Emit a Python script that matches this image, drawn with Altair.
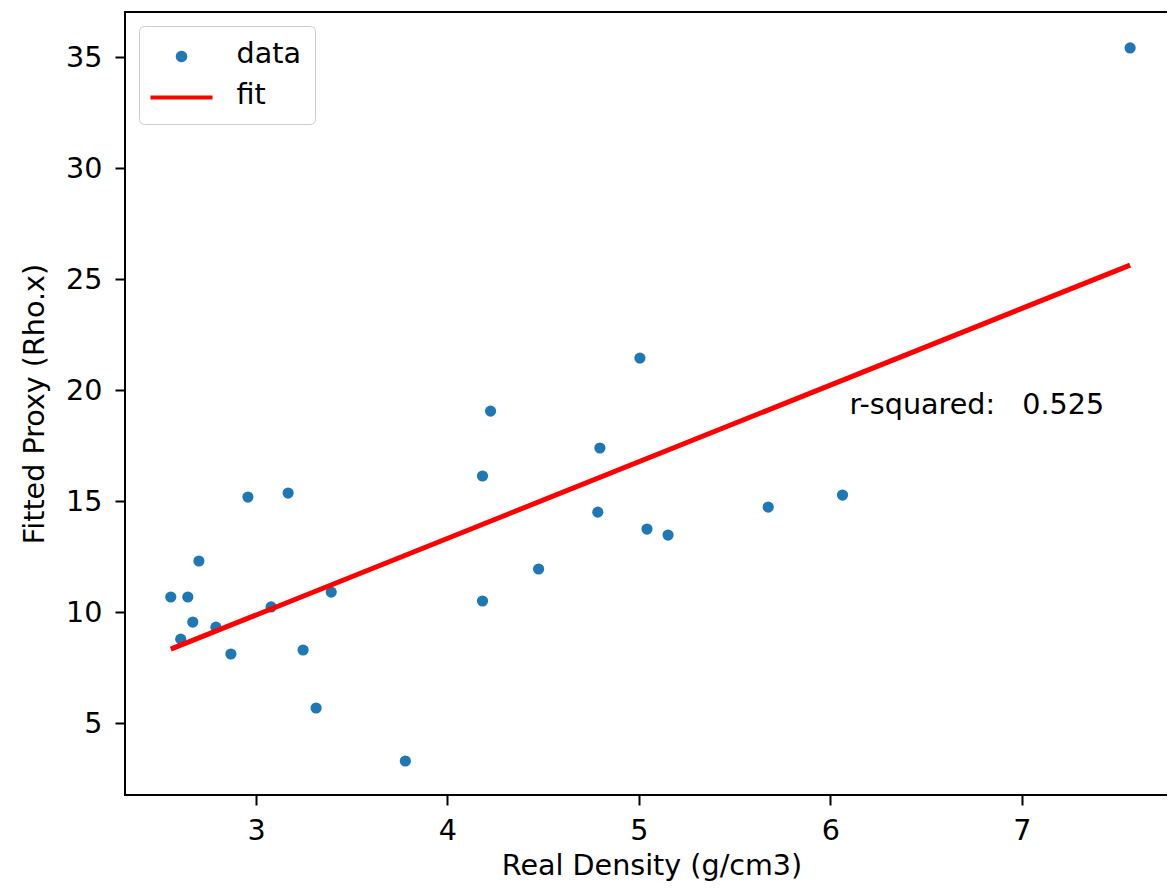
import math
import altair as alt
import pandas as pd

# ---- data ----
density = [2.555, 2.607, 2.644, 2.670, 2.702, 2.791, 2.869, 2.958, 3.079, 3.168,
           3.246, 3.314, 3.393, 3.780, 4.183, 4.183, 4.225, 4.476, 4.785, 4.796,
           5.005, 5.042, 5.152, 5.675, 6.063, 7.565]
proxy = [10.68, 8.78, 10.68, 9.55, 12.30, 9.32, 8.11, 15.18, 10.23, 15.36,
         8.29, 5.68, 10.90, 3.29, 16.13, 10.50, 19.05, 11.94, 14.50, 17.39,
         21.44, 13.74, 13.47, 14.73, 15.27, 35.41]
fit_x = [2.555, 7.565]
fit_y = [8.33, 25.63]
series_names = ["data", "fit"]
rsq_label = ["r-squared:\u00a0\u00a0\u00a00.525"]
rsq_x = [6.10]
rsq_y = [18.9]

x_domain = [2.316, 7.815]
y_domain = [1.76, 37.03]

W, H = 1053, 783
FONT = "DejaVu Sans"
FS = 28.6

pts = pd.DataFrame({"x": density, "y": proxy})
fit = pd.DataFrame({"x": fit_x, "y": fit_y})
leg = pd.DataFrame({"x": fit_x, "y": fit_y, "series": series_names})
txt = pd.DataFrame({"x": rsq_x, "y": rsq_y, "label": rsq_label})

xs = alt.Scale(domain=x_domain, nice=False, zero=False)
ys = alt.Scale(domain=y_domain, nice=False, zero=False)

xax = alt.Axis(title="Real Density (g/cm3)", values=[3, 4, 5, 6, 7], format="d",
               labelBaseline="alphabetic", labelPadding=34,
               titleY=79, titleBaseline="alphabetic")
yax = alt.Axis(title="Fitted Proxy (Rho.x)", values=[5, 10, 15, 20, 25, 30, 35], format="d",
               labelPadding=13, titleX=-82, titleY=H / 2, titleAngle=270,
               titleAlign="center", titleBaseline="alphabetic")

points = alt.Chart(pts).mark_circle(size=125, color="#1f77b4", opacity=1).encode(
    x=alt.X("x:Q", scale=xs, axis=xax),
    y=alt.Y("y:Q", scale=ys, axis=yax),
)

line = alt.Chart(fit).mark_line(color="red", strokeWidth=5).encode(
    x=alt.X("x:Q", scale=xs),
    y=alt.Y("y:Q", scale=ys),
)

DY = 0.2  # small downward nudge of legend glyphs (in symbol units)


def ring(r, n):
    pts_ = [(r * math.cos(2 * math.pi * k / n), DY + r * math.sin(2 * math.pi * k / n)) for k in range(n)]
    return "M" + "L".join(f"{a:.4f},{b:.4f}" for a, b in pts_) + "Z"


# legend glyphs: stroked rings that read as a filled dot, and a dash
disk = ring(0.30, 24) + ring(0.13, 12)
dash = f"M-2.48,{DY}L2.48,{DY}"

legend_layer = alt.Chart(leg).mark_point(size=0, filled=False, strokeWidth=4, opacity=1).encode(
    x=alt.X("x:Q", scale=xs),
    y=alt.Y("y:Q", scale=ys),
    color=alt.Color("series:N",
                    scale=alt.Scale(domain=series_names, range=["#1f77b4", "red"]),
                    legend=alt.Legend(title=None, orient="none", legendX=14, legendY=14,
                                      symbolSize=625, symbolStrokeWidth=4, symbolOpacity=1,
                                      symbolOffset=14.5, labelOffset=40.5,
                                      padding=13.5, rowPadding=11,
                                      labelFontSize=FS, labelFont=FONT, labelColor="black",
                                      fillColor="rgba(255,255,255,0.8)", strokeColor="#cccccc",
                                      cornerRadius=5)),
    shape=alt.Shape("series:N", scale=alt.Scale(domain=series_names, range=[disk, dash])),
)

text = alt.Chart(txt).mark_text(align="left", baseline="alphabetic", fontSize=FS,
                                font=FONT, color="black").encode(
    x=alt.X("x:Q", scale=xs),
    y=alt.Y("y:Q", scale=ys),
    text="label:N",
)

chart = alt.layer(points, line, legend_layer, text).properties(
    width=W, height=H,
    autosize=alt.AutoSizeParams(type="none"),
    padding={"left": 117, "top": 4, "right": -11, "bottom": 87},
).configure_view(
    stroke="black", strokeWidth=2
).configure_axis(
    grid=False, domain=False,
    labelFont=FONT, titleFont=FONT, labelFontSize=FS, titleFontSize=FS,
    titleFontWeight="normal", labelColor="black", titleColor="black",
    tickColor="black", tickSize=10, tickWidth=2,
)

chart.save("out.html", embed_options={"renderer": "svg", "actions": False})
